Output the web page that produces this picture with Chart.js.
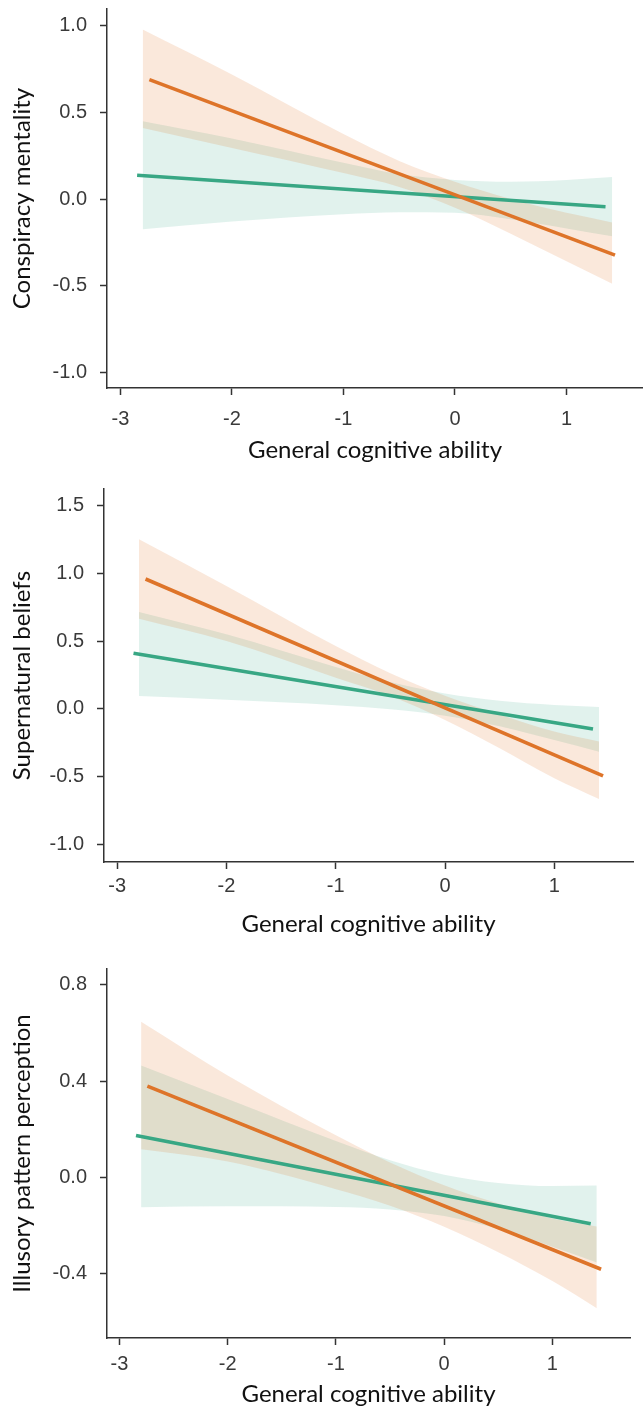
<!DOCTYPE html>
<html><head><meta charset="utf-8">
<script src="https://cdn.jsdelivr.net/npm/chart.js@4/dist/chart.umd.min.js"></script>
<style>
html,body{margin:0;padding:0;background:#fff;}
canvas{display:block;}
</style></head><body>
<canvas id="c1" width="643" height="470" style="width:643px;height:470px"></canvas>
<canvas id="c2" width="643" height="470" style="width:643px;height:470px"></canvas>
<canvas id="c3" width="643" height="472" style="width:643px;height:472px"></canvas>
<script>
// ---------- shared ----------
const xTicks = [-3, -2, -1, 0, 1];
const xTickLabels = ['-3', '-2', '-1', '0', '1'];
const xTitle = 'General cognitive ability';
const bandX = [-2.8, -2, -1, -0.5, 0, 0.5, 1, 1.41];

// ---------- panel 1: Conspiracy mentality ----------
const p1Title = 'Conspiracy mentality';
const p1YTicks = [-1, -0.5, 0, 0.5, 1];
const p1YTickLabels = ['-1.0', '-0.5', '0.0', '0.5', '1.0'];
const p1OrangeLineX = [-2.74, 1.435];
const p1OrangeLineY = [0.69, -0.324];
const p1GreenLineX = [-2.85, 1.35];
const p1GreenLineY = [0.137, -0.045];
const p1OrangeUpper = [0.98, 0.72, 0.375, 0.22, 0.10, 0.00, -0.08, -0.135];
const p1OrangeLower = [0.41, 0.295, 0.15, 0.07, -0.05, -0.20, -0.36, -0.49];
const p1GreenUpper = [0.45, 0.35, 0.21, 0.144, 0.11, 0.10, 0.11, 0.127];
const p1GreenLower = [-0.175, -0.13, -0.088, -0.076, -0.08, -0.117, -0.17, -0.215];

// ---------- panel 2: Supernatural beliefs ----------
const p2Title = 'Supernatural beliefs';
const p2YTicks = [-1, -0.5, 0, 0.5, 1, 1.5];
const p2YTickLabels = ['-1.0', '-0.5', '0.0', '0.5', '1.0', '1.5'];
const p2OrangeLineX = [-2.74, 1.446];
const p2OrangeLineY = [0.957, -0.493];
const p2GreenLineX = [-2.85, 1.354];
const p2GreenLineY = [0.41, -0.147];
const p2OrangeUpper = [1.25, 0.905, 0.463, 0.263, 0.097, -0.04, -0.166, -0.24];
const p2OrangeLower = [0.665, 0.50, 0.23, 0.095, -0.081, -0.29, -0.51, -0.663];
const p2GreenUpper = [0.715, 0.55, 0.31, 0.198, 0.114, 0.06, 0.029, 0.015];
const p2GreenLower = [0.095, 0.067, 0.028, -0.002, -0.05, -0.128, -0.229, -0.315];

// ---------- panel 3: Illusory pattern perception ----------
const p3Title = 'Illusory pattern perception';
const p3YTicks = [-0.4, 0, 0.4, 0.8];
const p3YTickLabels = ['-0.4', '0.0', '0.4', '0.8'];
const p3OrangeLineX = [-2.742, 1.45];
const p3OrangeLineY = [0.379, -0.383];
const p3GreenLineX = [-2.847, 1.354];
const p3GreenLineY = [0.173, -0.194];
const p3OrangeUpper = [0.647, 0.423, 0.174, 0.061, -0.034, -0.11, -0.172, -0.205];
const p3OrangeLower = [0.116, 0.065, -0.05, -0.119, -0.206, -0.312, -0.432, -0.545];
const p3GreenUpper = [0.465, 0.325, 0.15, 0.07, 0.01, -0.024, -0.037, -0.035];
const p3GreenLower = [-0.125, -0.121, -0.124, -0.134, -0.162, -0.216, -0.289, -0.355];

// ---------- styling ----------
const ORANGE = '#DE7429';
const GREEN = '#38A784';
const ORANGE_FILL = 'rgba(217,95,2,0.14)';
const GREEN_FILL = 'rgba(27,158,119,0.13)';
const AXIS = '#333333';
const TICK_TXT = '#3a3a3a';
const TICK_FONT = {family: "'Liberation Sans', Arial, sans-serif", size: 20};
const TITLE_FONT = {family: "Lato, 'Open Sans', sans-serif", size: 24};

function pts(xs, ys) { return xs.map((x, i) => ({x: x, y: ys[i]})); }

function makePanel(id, p) {
  const area = p.area;
  const lineDs = (xs, ys, col, order) => ({
    data: pts(xs, ys), borderColor: col, borderWidth: 3.6, pointRadius: 0,
    fill: false, order: order, borderCapStyle: 'butt', tension: 0
  });
  const bandDs = (ys, col, target, order) => ({
    data: pts(bandX, ys), borderWidth: 0, borderColor: 'rgba(0,0,0,0)', pointRadius: 0,
    backgroundColor: col, fill: target === null ? false : {target: target},
    order: order, cubicInterpolationMode: 'monotone'
  });
  return new Chart(document.getElementById(id), {
    type: 'line',
    data: {
      datasets: [
        lineDs(p.oLX, p.oLY, ORANGE, 0),
        lineDs(p.gLX, p.gLY, GREEN, 1),
        bandDs(p.oU, ORANGE_FILL, 3, 2),
        bandDs(p.oL, ORANGE_FILL, null, 2),
        bandDs(p.gU, GREEN_FILL, 5, 3),
        bandDs(p.gL, GREEN_FILL, null, 3)
      ]
    },
    options: {
      responsive: false, animation: false, devicePixelRatio: 1,
      layout: {padding: {left: 0, top: area.top, right: 643 - area.right, bottom: 0}},
      plugins: {legend: {display: false}, tooltip: {enabled: false}},
      scales: {
        x: {
          type: 'linear', min: p.xMin, max: p.xMax,
          afterBuildTicks: s => { s.ticks = xTicks.map(v => ({value: v})); },
          afterFit: s => { s.height = p.h - area.bottom; s.paddingLeft = 0; s.paddingRight = 0; s.paddingTop = 0; s.paddingBottom = 0; },
          ticks: {
            font: TICK_FONT, color: TICK_TXT, padding: p.xTickPad, maxRotation: 0, autoSkip: false,
            callback: v => { const i = xTicks.indexOf(v); return i >= 0 ? xTickLabels[i] : ''; }
          },
          grid: {display: true, drawOnChartArea: false, drawTicks: true, tickLength: 7, tickWidth: 1.5, tickColor: AXIS, color: AXIS},
          border: {display: true, color: AXIS, width: 1.5},
          title: {display: true, text: xTitle, font: TITLE_FONT, color: '#111', padding: {top: 0, bottom: p.xTitlePad}}
        },
        y: {
          type: 'linear', min: p.yMin, max: p.yMax,
          afterBuildTicks: s => { s.ticks = p.yTicks.map(v => ({value: v})); },
          afterFit: s => { s.width = area.left; s.paddingLeft = 0; s.paddingRight = 0; s.paddingTop = 0; s.paddingBottom = 0; },
          ticks: {
            font: TICK_FONT, color: TICK_TXT, padding: 13, autoSkip: false,
            callback: v => { const i = p.yTicks.findIndex(t => Math.abs(t - v) < 1e-9); return i >= 0 ? p.yLabels[i] : ''; }
          },
          grid: {display: true, drawOnChartArea: false, drawTicks: true, tickLength: 7, tickWidth: 1.5, tickColor: AXIS, color: AXIS},
          border: {display: true, color: AXIS, width: 1.5},
          title: {display: true, text: p.title, font: TITLE_FONT, color: '#111', padding: {top: 8, bottom: 0}}
        }
      }
    }
  });
}

makePanel('c1', {
  title: p1Title, yTicks: p1YTicks, yLabels: p1YTickLabels,
  oLX: p1OrangeLineX, oLY: p1OrangeLineY, gLX: p1GreenLineX, gLY: p1GreenLineY,
  oU: p1OrangeUpper, oL: p1OrangeLower, gU: p1GreenUpper, gL: p1GreenLower,
  xMin: -3.12, xMax: 1.686, yMin: -1.092, yMax: 1.098,
  area: {left: 107, top: 9, right: 643, bottom: 388}, h: 470, xTickPad: 12, xTitlePad: 5
});
makePanel('c2', {
  title: p2Title, yTicks: p2YTicks, yLabels: p2YTickLabels,
  oLX: p2OrangeLineX, oLY: p2OrangeLineY, gLX: p2GreenLineX, gLY: p2GreenLineY,
  oU: p2OrangeUpper, oL: p2OrangeLower, gU: p2GreenUpper, gL: p2GreenLower,
  xMin: -3.12, xMax: 1.72, yMin: -1.127, yMax: 1.62,
  area: {left: 104, top: 19, right: 633, bottom: 392}, h: 470, xTickPad: 5, xTitlePad: 1
});
makePanel('c3', {
  title: p3Title, yTicks: p3YTicks, yLabels: p3YTickLabels,
  oLX: p3OrangeLineX, oLY: p3OrangeLineY, gLX: p3GreenLineX, gLY: p3GreenLineY,
  oU: p3OrangeUpper, oL: p3OrangeLower, gU: p3GreenUpper, gL: p3GreenLower,
  xMin: -3.115, xMax: 1.717, yMin: -0.669, yMax: 0.866,
  area: {left: 107, top: 29, right: 630, bottom: 398}, h: 472, xTickPad: 7, xTitlePad: 3
});
</script>
</body></html>
